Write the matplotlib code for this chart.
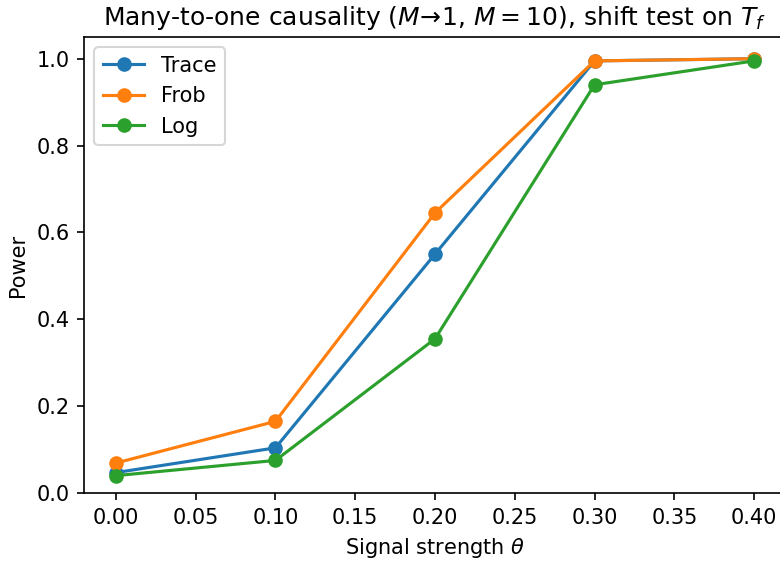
import matplotlib
matplotlib.use('Agg')
import matplotlib.pyplot as plt

theta = [0.0, 0.1, 0.2, 0.3, 0.4]
power_trace = [0.047, 0.104, 0.55, 0.995, 1.0]
power_frob = [0.069, 0.165, 0.645, 0.995, 1.0]
power_log = [0.04, 0.075, 0.355, 0.94, 0.995]

fig = plt.figure(figsize=(5.2, 3.74), dpi=150)
# the original is cropped on the right, so the right spine sits past the edge
ax = fig.add_axes([84 / 780, 68 / 561, 702 / 780, 456 / 561])
ax.plot(theta, power_trace, marker='o', label='Trace')
ax.plot(theta, power_frob, marker='o', label='Frob')
ax.plot(theta, power_log, marker='o', label='Log')

ax.set_xlabel(r'Signal strength $\theta$')
ax.set_ylabel('Power')
ax.set_title(r'Many-to-one causality ($M\!\to\!1$, $M=10$), shift test on $T_f$')
ax.set_ylim(0, 1.05)
ax.legend(loc='upper left')

fig.savefig('out.png', dpi=150)
